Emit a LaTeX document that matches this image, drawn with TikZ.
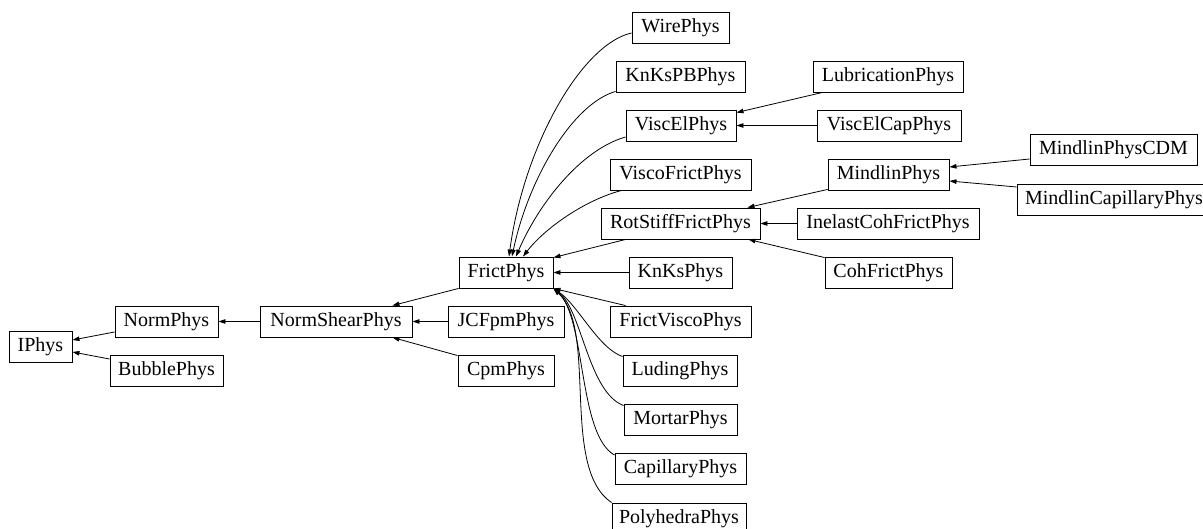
\documentclass[tikz,border=0pt]{standalone}
\usepackage{fontspec}
\setmainfont{Liberation Serif}
\usetikzlibrary{arrows.meta,calc}
\begin{document}
\begin{tikzpicture}[x=1pt,y=-1pt,
  cls/.style={draw,line width=0.9pt,inner sep=0pt,minimum height=31pt,font=\fontsize{20}{23}\selectfont},
  inh/.style={line width=0.8pt,-{Triangle[length=7pt,width=4.5pt]}}]
\useasboundingbox (0,0) rectangle (1203,529);
\node[cls,minimum width=63pt]  (IPhys) at (40.5,346.5) {IPhys};
\node[cls,minimum width=103pt] (NormPhys) at (166.5,321.5) {NormPhys};
\node[cls,minimum width=113pt] (BubblePhys) at (166.5,370.5) {BubblePhys};
\node[cls,minimum width=152pt] (NormShearPhys) at (336,321.5) {NormShearPhys};
\node[cls,minimum width=94pt]  (FrictPhys) at (506,272.5) {FrictPhys};
\node[cls,minimum width=116pt] (JCFpmPhys) at (506,321.5) {JCFpmPhys};
\node[cls,minimum width=96pt]  (CpmPhys) at (506,370.5) {CpmPhys};
\node[cls,minimum width=97pt]  (WirePhys) at (680.5,27.5) {WirePhys};
\node[cls,minimum width=129pt] (KnKsPBPhys) at (680.5,76.5) {KnKsPBPhys};
\node[cls,minimum width=110pt] (ViscElPhys) at (681,125.5) {ViscElPhys};
\node[cls,minimum width=141pt] (ViscoFrictPhys) at (680.5,174.5) {ViscoFrictPhys};
\node[cls,minimum width=159pt] (RotStiffFrictPhys) at (680.5,223.5) {RotStiffFrictPhys};
\node[cls,minimum width=103pt] (KnKsPhys) at (680.5,272.5) {KnKsPhys};
\node[cls,minimum width=141pt] (FrictViscoPhys) at (680.5,321.5) {FrictViscoPhys};
\node[cls,minimum width=114pt] (LudingPhys) at (680,370.5) {LudingPhys};
\node[cls,minimum width=113pt] (MortarPhys) at (680.5,419.5) {MortarPhys};
\node[cls,minimum width=131pt] (CapillaryPhys) at (680.5,469) {CapillaryPhys};
\node[cls,minimum width=134pt] (PolyhedraPhys) at (679,518.5) {PolyhedraPhys};
\node[cls,minimum width=150pt] (LubricationPhys) at (888,76.5) {LubricationPhys};
\node[cls,minimum width=144pt] (ViscElCapPhys) at (889,125.5) {ViscElCapPhys};
\node[cls,minimum width=121pt] (MindlinPhys) at (888.5,174.5) {MindlinPhys};
\node[cls,minimum width=182pt] (InelastCohFrictPhys) at (888,223.5) {InelastCohFrictPhys};
\node[cls,minimum width=127pt] (CohFrictPhys) at (888.5,272.5) {CohFrictPhys};
\node[cls,minimum width=167pt] (MindlinPhysCDM) at (1113.5,150) {MindlinPhysCDM};
\node[cls,minimum width=194pt] (MindlinCapillaryPhys) at (1114,199.5) {MindlinCapillaryPhys};
% edges
\draw[inh] ($(NormPhys.west)+(0,10.5)$) -- ($(IPhys.east)+(0,-6.5)$);
\draw[inh] ($(BubblePhys.west)+(0,-11.5)$) -- ($(IPhys.east)+(0,5.5)$);
\draw[inh] (NormShearPhys.west) -- (NormPhys.east);
\draw[inh] (FrictPhys.south west) -- ($(NormShearPhys.north east)+(-20,0)$);
\draw[inh] (JCFpmPhys.west) -- (NormShearPhys.east);
\draw[inh] ($(CpmPhys.north west)+(0,1)$) -- ($(NormShearPhys.south east)+(-20,0)$);
\draw[inh] (KnKsPhys.west) -- (FrictPhys.east);
\draw[inh] ($(FrictViscoPhys.north west)+(16,0)$) -- (FrictPhys.south east);
\draw[inh] ($(LudingPhys.north west)+(0,2)$) .. controls (598,348) and (578,305) .. (FrictPhys.south east);
\draw[inh] ($(MortarPhys.north west)+(0,2)$) .. controls (588,392) and (582,310) .. (FrictPhys.south east);
\draw[inh] ($(CapillaryPhys.north west)+(0,2)$) .. controls (578,435) and (586,318) .. (FrictPhys.south east);
\draw[inh] (PolyhedraPhys.north west) .. controls (560,468) and (598,330) .. (FrictPhys.south east);
\draw[inh] ($(RotStiffFrictPhys.south west)+(25,0)$) -- ($(FrictPhys.north east)+(0,1)$);
\draw[inh] ($(ViscoFrictPhys.south west)+(12,0)$) .. controls (585,200) and (545,228) .. ($(FrictPhys.north)+(17,0)$);
\draw[inh] ($(ViscElPhys.west)+(0,11.5)$) .. controls (580,150) and (538,205) .. ($(FrictPhys.north)+(10,0)$);
\draw[inh] ($(KnKsPBPhys.south west)+(0,-1)$) .. controls (572,104) and (528,180) .. ($(FrictPhys.north)+(6,0)$);
\draw[inh] ($(WirePhys.west)+(0,5.5)$) .. controls (582,44) and (524,145) .. ($(FrictPhys.north)+(3,0)$);
\draw[inh] ($(LubricationPhys.south west)+(10,0)$) -- ($(ViscElPhys.north east)+(0,3)$);
\draw[inh] (ViscElCapPhys.west) -- (ViscElPhys.east);
\draw[inh] ($(MindlinPhys.south west)+(0,-1)$) -- ($(RotStiffFrictPhys.north east)+(-13,0)$);
\draw[inh] (InelastCohFrictPhys.west) -- (RotStiffFrictPhys.east);
\draw[inh] ($(CohFrictPhys.north west)+(0,1)$) -- ($(RotStiffFrictPhys.south east)+(-12,0)$);
\draw[inh] ($(MindlinPhysCDM.west)+(0,9)$) -- ($(MindlinPhys.east)+(0,-7.5)$);
\draw[inh] ($(MindlinCapillaryPhys.west)+(0,-12.5)$) -- ($(MindlinPhys.east)+(0,6.5)$);
\end{tikzpicture}
\end{document}
